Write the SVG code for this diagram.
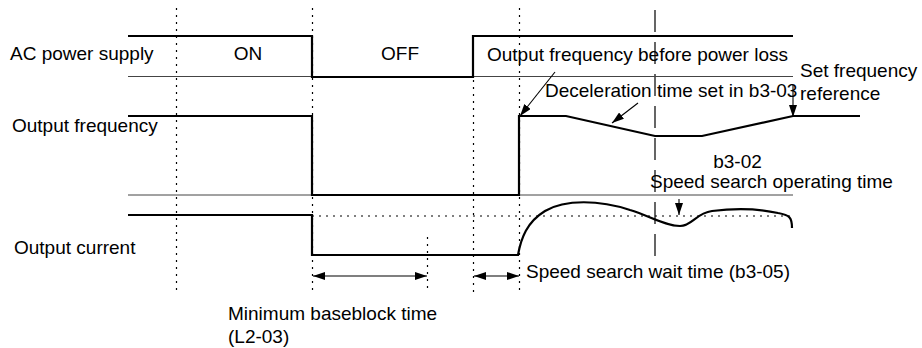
<svg xmlns="http://www.w3.org/2000/svg" width="922" height="348" viewBox="0 0 922 348">
<defs>
<style>
.t{font-family:"Liberation Sans",Arial,sans-serif;font-size:19px;fill:#000}
.thick{fill:none;stroke:#000;stroke-width:2.2;stroke-linejoin:miter}
.thin{fill:none;stroke:#444;stroke-width:1}
.dot{fill:none;stroke:#000;stroke-width:1.2;stroke-dasharray:2 5}
.dash{fill:none;stroke:#000;stroke-width:1.2;stroke-dasharray:22 10}
.arr{fill:none;stroke:#000;stroke-width:1.1}
</style>
<marker id="ah" markerWidth="12" markerHeight="8" refX="12" refY="4" orient="auto-start-reverse" markerUnits="userSpaceOnUse">
<path d="M0,0 L12,4 L0,8 Z" fill="#000"/>
</marker>
</defs>
<rect width="922" height="348" fill="#fff"/>

<g id="guides">
<line class="dot" x1="176.5" y1="8" x2="176.5" y2="292"/>
<line class="dot" x1="312.5" y1="8" x2="312.5" y2="292"/>
<line class="dot" x1="427.5" y1="237" x2="427.5" y2="292"/>
<line class="dot" x1="473.5" y1="80" x2="473.5" y2="293"/>
<line class="dot" x1="519.5" y1="8" x2="519.5" y2="292"/>
<line class="dash" x1="655" y1="10" x2="655" y2="257"/>
<line class="dot" x1="312" y1="216" x2="793" y2="216"/>
</g>

<g id="ac-power-supply">
<line class="thin" x1="128" y1="76.5" x2="793" y2="76.5"/>
<path class="thick" d="M128,36 H312 V77 H473 V36 H793"/>
<text class="t" x="10" y="60">AC power supply</text>
<text class="t" x="248" y="60" text-anchor="middle">ON</text>
<text class="t" x="400" y="60" text-anchor="middle">OFF</text>
</g>

<g id="output-frequency">
<line class="thin" x1="128" y1="195" x2="793" y2="195"/>
<path class="thick" d="M128,116 H312 V195 H519 V116 H566 L655,136 H702 L793,116 H860"/>
<text class="t" x="12" y="132">Output frequency</text>
</g>

<g id="output-current">
<path class="thick" d="M128,215 H312 V255 H518 C521,238 527,222 545,211 C565,199 600,200 630,210 C650,216 665,226 680,226 C692,226 696,213 712,211 C735,208 760,209 778,213 C790,215 792,218 792,228"/>
<text class="t" x="14" y="254">Output current</text>
</g>

<g id="labels">
<text class="t" x="487" y="61">Output frequency before power loss</text>
<text class="t" x="545" y="97">Deceleration time set in b3-03</text>
<text class="t" x="800" y="77">Set frequency</text>
<text class="t" x="800" y="100">reference</text>
<text class="t" x="737.5" y="168" text-anchor="middle">b3-02</text>
<text class="t" x="650" y="188">Speed search operating time</text>
<text class="t" x="526" y="278">Speed search wait time (b3-05)</text>
<text class="t" x="228" y="320">Minimum baseblock time</text>
<text class="t" x="228" y="343">(L2-03)</text>
</g>

<g id="connectors">
<line class="arr" x1="555" y1="72" x2="520" y2="116" marker-end="url(#ah)"/>
<line class="arr" x1="638" y1="103" x2="612" y2="123" marker-end="url(#ah)"/>
<line class="arr" x1="793" y1="85" x2="793" y2="117" marker-end="url(#ah)"/>
<line class="arr" x1="679" y1="199" x2="679" y2="215" marker-end="url(#ah)"/>
<line class="arr" x1="313" y1="276" x2="427" y2="276" marker-start="url(#ah)" marker-end="url(#ah)"/>
<line class="arr" x1="474" y1="276" x2="519" y2="276" marker-start="url(#ah)" marker-end="url(#ah)"/>
</g>
</svg>
